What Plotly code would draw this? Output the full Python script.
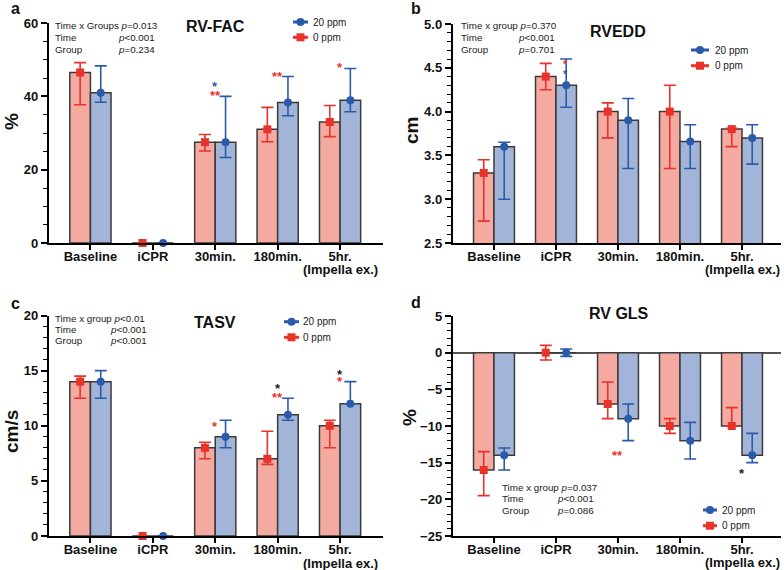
import plotly.graph_objects as go

W, H = 784, 570
FONT = "Liberation Sans, Arial, sans-serif"

categories = ["Baseline", "iCPR", "30min.", "180min.", "5hr.<br>(Impella ex.)"]
groups = ["0 ppm", "20 ppm"]

# Panel a: RV-FAC (%)
a_red = [46.5, 0, 27.5, 31.0, 33.0]
a_red_hi = [49.2, None, 29.6, 37.0, 37.5]
a_red_lo = [37.7, None, 25.1, 27.6, 29.0]
a_blue = [41.0, 0, 27.5, 38.3, 38.9]
a_blue_hi = [48.3, None, 40.0, 45.4, 47.6]
a_blue_lo = [38.4, None, 23.3, 34.7, 35.8]

# Panel b: RVEDD (cm)
b_red = [3.30, 4.40, 4.00, 4.00, 3.80]
b_red_hi = [3.45, 4.55, 4.10, 4.30, 3.81]
b_red_lo = [2.75, 4.25, 3.70, 3.35, 3.60]
b_blue = [3.60, 4.30, 3.90, 3.66, 3.70]
b_blue_hi = [3.65, 4.60, 4.15, 3.85, 3.85]
b_blue_lo = [3.00, 4.05, 3.35, 3.35, 3.40]

# Panel c: TASV (cm/s)
c_red = [14.0, 0, 8.0, 7.0, 10.0]
c_red_hi = [14.5, None, 8.5, 9.5, 10.5]
c_red_lo = [12.5, None, 7.0, 6.5, 8.0]
c_blue = [14.0, 0, 9.0, 11.0, 12.0]
c_blue_hi = [15.0, None, 10.5, 12.5, 14.0]
c_blue_lo = [12.5, None, 8.0, 10.5, 12.0]

# Panel d: RV GLS (%)
d_red = [-16.0, 0, -7.0, -10.0, -10.0]
d_red_hi = [-13.5, 1.0, -4.0, -9.0, -7.5]
d_red_lo = [-19.5, -1.0, -9.0, -11.0, -10.0]
d_blue = [-14.0, 0, -9.0, -12.0, -14.0]
d_blue_hi = [-13.0, 0.5, -7.0, -9.5, -11.0]
d_blue_lo = [-16.0, -0.5, -12.0, -14.5, -15.0]

titles = ["RV-FAC", "RVEDD", "TASV", "RV GLS"]
ytitles = ["%", "cm", "cm/s", "%"]
letters = ["a", "b", "c", "d"]

stats_a = ["Time x Groups <i>p</i>=0.013", "Time", "<i>p</i><0.001", "Group", "<i>p</i>=0.234"]
stats_b = ["Time x group <i>p</i>=0.370", "Time", "<i>p</i><0.001", "Group", "<i>p</i>=0.701"]
stats_c = ["Time x group <i>p</i><0.01", "Time", "<i>p</i><0.001", "Group", "<i>p</i><0.001"]
stats_d = ["Time x group <i>p</i>=0.037", "Time", "<i>p</i><0.001", "Group", "<i>p</i>=0.086"]

# significance marks: (category index, y value, text, colour key)
sig_a = [(2, 43.9, "*", "blue"), (2, 41.4, "**", "red"), (3, 46.6, "**", "red"), (4, 48.9, "*", "red")]
sig_b = [(1.16, 4.58, "*", "red"), (1.16, 4.46, "*", "blue")]
sig_c = [(2, 10.3, "*", "red"), (3, 13.7, "*", "black"), (3, 12.95, "**", "red"),
         (4, 14.97, "*", "black"), (4, 14.37, "*", "red")]
sig_d = [(2, -13.5, "**", "red"), (4, -15.9, "*", "black")]

RED_FILL, BLUE_FILL = "#f4aaa0", "#a2b5d8"
RED, BLUE, BLACK = "#e8322a", "#2a5aaa", "#222222"
COL = {"red": RED, "blue": BLUE, "black": BLACK}
EDGE = "#3a3a3a"
BW = 0.33

def px(x):
    return x / W

def py(y):
    return 1 - y / H

fig = go.Figure()

panels = [
    dict(red=(a_red, a_red_hi, a_red_lo), blue=(a_blue, a_blue_hi, a_blue_lo),
         dom_x=(48.5, 383), dom_y=(23, 243), xr=(-0.672, 4.688), yr=(0, 60),
         dtick=20, minor=5, fmt="", zero=False, sub_y=270),
    dict(red=(b_red, b_red_hi, b_red_lo), blue=(b_blue, b_blue_hi, b_blue_lo),
         dom_x=(452.5, 781), dom_y=(24, 243), xr=(-0.669, 4.629), yr=(2.5, 5.0),
         dtick=0.5, minor=0.1, fmt=".1f", zero=False, sub_y=269),
    dict(red=(c_red, c_red_hi, c_red_lo), blue=(c_blue, c_blue_hi, c_blue_lo),
         dom_x=(48.5, 383), dom_y=(315.5, 536), xr=(-0.672, 4.688), yr=(0, 20),
         dtick=5, minor=1, fmt="", zero=False, sub_y=563),
    dict(red=(d_red, d_red_hi, d_red_lo), blue=(d_blue, d_blue_hi, d_blue_lo),
         dom_x=(452.5, 781), dom_y=(316, 536), xr=(-0.669, 4.629), yr=(-25, 5),
         dtick=5, minor=1, fmt="", zero=True, sub_y=562),
]

def err(vals, hi, lo):
    up = [None if h is None else h - v for v, h in zip(vals, hi)]
    dn = [None if l is None else v - l for v, l in zip(vals, lo)]
    return up, dn

SERIES = (("red", -BW / 2, RED_FILL, RED, "square"),
          ("blue", BW / 2, BLUE_FILL, BLUE, "circle"))

# first line of each category label on the axis, second line (if any) placed below
tick_main = [c.split("<br>")[0] for c in categories]
tick_sub = [c.split("<br>")[1] if "<br>" in c else "" for c in categories]

idx = list(range(len(categories)))
layout = {}
annotations = []
shapes = []
for p, P in enumerate(panels):
    n = "" if p == 0 else str(p + 1)
    xa, ya = "x" + n, "y" + n
    for key, off, fill, col, sym in SERIES:
        vals, hi, lo = P[key]
        xs = [i + off for i in idx]
        fig.add_trace(go.Bar(x=xs, y=vals, width=BW, xaxis=xa, yaxis=ya,
                             marker=dict(color=fill, line=dict(color=EDGE, width=1.5)),
                             showlegend=False, hoverinfo="skip"))
    for key, off, fill, col, sym in SERIES:
        vals, hi, lo = P[key]
        xs = [i + off for i in idx]
        up, dn = err(vals, hi, lo)
        fig.add_trace(go.Scatter(x=xs, y=vals, mode="markers", xaxis=xa, yaxis=ya,
                                 marker=dict(color=col, size=8, symbol=sym),
                                 error_y=dict(type="data", symmetric=False, array=up,
                                              arrayminus=dn, color=col, thickness=1.6, width=6),
                                 showlegend=False, cliponaxis=False, hoverinfo="skip"))
    layout["xaxis" + n] = dict(domain=[px(P["dom_x"][0]), px(P["dom_x"][1])], anchor=ya,
                               range=list(P["xr"]), tickvals=idx, ticktext=tick_main,
                               tickangle=0, automargin=False, ticklabelstandoff=-4,
                               showline=True, linecolor="black", linewidth=1.5,
                               ticks="outside", ticklen=5, tickwidth=1.5, tickcolor="black",
                               showgrid=False, zeroline=False,
                               tickfont=dict(family=FONT, size=13, color="#111", weight="bold"))
    layout["yaxis" + n] = dict(domain=[py(P["dom_y"][1]), py(P["dom_y"][0])], anchor=xa,
                               range=list(P["yr"]), dtick=P["dtick"], tick0=P["yr"][0],
                               tickformat=P["fmt"], automargin=False,
                               showline=True, linecolor="black", linewidth=1.5,
                               ticks="outside", ticklen=6, tickwidth=1.5, tickcolor="black",
                               minor=dict(dtick=P["minor"], ticks="outside", ticklen=3.5,
                                          tickwidth=1.2, tickcolor="black", showgrid=False),
                               showgrid=False, zeroline=P["zero"], zerolinecolor="#555555",
                               zerolinewidth=1.5,
                               tickfont=dict(family=FONT, size=13, color="#111", weight="bold"))
    for i, s in zip(idx, tick_sub):
        if s:
            annotations.append(dict(x=i, y=py(P["sub_y"]), xref=xa, yref="paper", text=s,
                                    showarrow=False, xanchor="center", yanchor="middle",
                                    font=dict(family=FONT, size=13, color="#111",
                                              weight="bold")))


def text(x, y, t, size=10, bold=False, anchor="center", color="#222", angle=0):
    annotations.append(dict(x=px(x), y=py(y), xref="paper", yref="paper", text=t,
                            showarrow=False, xanchor=anchor, yanchor="middle",
                            textangle=angle, borderpad=0,
                            font=dict(family=FONT, size=size, color=color,
                                      weight="bold" if bold else "normal")))

# panel letters, titles, axis titles
for (lx, ly), t in zip([(16, 8), (416, 8), (16, 303), (416, 302)], letters):
    text(lx, ly, t, size=16, bold=True, color="#111")
for (tx, ty), t in zip([(215, 26), (618, 32), (215, 322), (619, 313)], titles):
    text(tx, ty, t, size=16, bold=True, color="#111")
for (tx, ty), t in zip([(11, 122), (411, 131), (11, 432), (410, 418)], ytitles):
    text(tx, ty, t, size=19, bold=True, color="#111", angle=-90)

# statistics text
stat_pos = [(54, 156, (25, 37.5, 49.3), stats_a),
            (460, 556, (25, 37.5, 49.3), stats_b),
            (54, 148, (318.3, 329.5, 340.7), stats_c),
            (501, 595, (487.3, 499, 510.7), stats_d)]
for left, right, ys, s in stat_pos:
    text(left, ys[0], s[0], size=9.8, anchor="left")
    text(left, ys[1], s[1], size=9.8, anchor="left")
    text(right, ys[1], s[2], size=9.8, anchor="right")
    text(left, ys[2], s[3], size=9.8, anchor="left")
    text(right, ys[2], s[4], size=9.8, anchor="right")

# significance marks (data coordinates)
for p, sig in enumerate([sig_a, sig_b, sig_c, sig_d]):
    n = "" if p == 0 else str(p + 1)
    for cx, cy, t, c in sig:
        annotations.append(dict(x=cx, y=cy, xref="x" + n, yref="y" + n, text=t,
                                showarrow=False, xanchor="center", yanchor="middle",
                                yshift=-4 if p != 1 else -3,
                                font=dict(family=FONT, size=13 if p != 1 else 11,
                                          color=COL[c], weight="bold")))

# legends
leg_pos = [(293, 308, 312, 22, 37.3), (691, 709, 714, 50, 65.7),
           (284, 299, 302, 321.7, 337.3), (703, 717, 721, 510, 525.7)]
for x0, x1, tx, yb, yr in leg_pos:
    for yy, col, sym, lab in ((yb, BLUE, "circle", groups[1]), (yr, RED, "rect", groups[0])):
        shapes.append(dict(type="line", xref="paper", yref="paper", x0=px(x0), x1=px(x1),
                           y0=py(yy), y1=py(yy), line=dict(color=col, width=3)))
        cx = (x0 + x1) / 2
        shapes.append(dict(type=sym, xref="paper", yref="paper", x0=px(cx - 4), x1=px(cx + 4),
                           y0=py(yy + 4), y1=py(yy - 4), fillcolor=col, line=dict(width=0)))
        text(tx, yy, lab, size=10, anchor="left")

fig.update_layout(**layout)
fig.update_layout(width=W, height=H, margin=dict(l=0, r=0, t=0, b=0, autoexpand=False),
                  paper_bgcolor="white", plot_bgcolor="white",
                  barmode="overlay", showlegend=False, hovermode=False,
                  annotations=annotations, shapes=shapes,
                  font=dict(family=FONT))
fig.write_html("out.html", config={"displayModeBar": False},
               post_script="document.body.style.margin='0px';"
                           "document.body.style.overflow='hidden';")
